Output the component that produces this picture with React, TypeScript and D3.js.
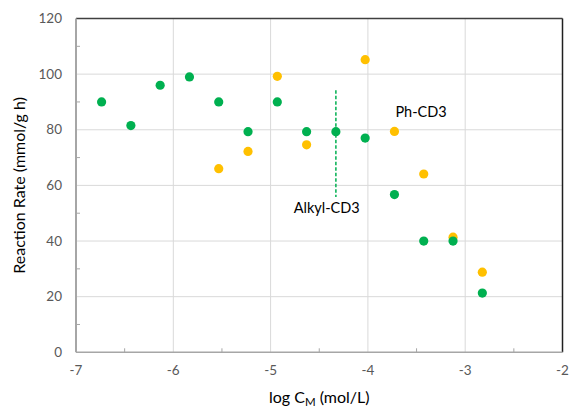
import React from "react";
import * as d3 from "d3";

// log of monomer concentration (mol/L) for each run
const logConc = [-6.737, -6.436, -6.135, -5.834, -5.533, -5.232, -4.931, -4.63, -4.329, -4.028, -3.727, -3.426, -3.125, -2.824];
// reaction rate (mmol/g h), alkyl-CD3 series
const alkylRate: (number | null)[] = [90, 81.5, 96, 99, 90, 79.3, 90, 79.3, 79.3, 77, 56.7, 40, 40, 21.3];
// reaction rate (mmol/g h), Ph-CD3 series
const phRate: (number | null)[] = [null, null, null, null, 66, 72.2, 99.2, 74.6, null, 105.2, 79.4, 64.1, 41.4, 28.8];

const xTicks = [-7, -6, -5, -4, -3, -2];
const yTicks = [0, 20, 40, 60, 80, 100, 120];

// marker for the alkyl-CD3 series: vertical dashed guide
const guideX = -4.329;
const guideY = [55.8, 94.2];

const W = 569;
const H = 409;
const M = { left: 76, right: 6.5, top: 18.5, bottom: 56.7 };

const GREEN = "#00B050";
const YELLOW = "#FFC000";
const FONT = "Lato, 'Open Sans', sans-serif";

export default function App() {
  const x = d3.scaleLinear().domain([-7, -2]).range([M.left, W - M.right]);
  const y = d3.scaleLinear().domain([0, 120]).range([H - M.bottom, M.top]);
  const x0 = x(-7), x1 = x(-2), y0 = y(0), y1 = y(120);

  const minorX = d3.range(-6.5, -2, 1);
  const minorY = d3.range(10, 120, 20);

  const pts = (vals: (number | null)[]) =>
    logConc
      .map((c, i) => ({ c, v: vals[i] }))
      .filter((d) => d.v !== null) as { c: number; v: number }[];

  return (
    <div style={{ position: "fixed", left: 0, top: 0 }}>
      <svg width={W} height={H} style={{ display: "block", background: "#fff" }}>
        {/* grid */}
        {xTicks.slice(1, -1).map((t) => (
          <line key={"gx" + t} x1={x(t)} x2={x(t)} y1={y1} y2={y0} stroke="#d9d9d9" strokeWidth={1} />
        ))}
        {yTicks.slice(1, -1).map((t) => (
          <line key={"gy" + t} x1={x0} x2={x1} y1={y(t)} y2={y(t)} stroke="#d9d9d9" strokeWidth={1} />
        ))}
        {/* frame */}
        <line x1={x0} x2={x1} y1={y1} y2={y1} stroke="#404040" strokeWidth={1.5} />
        <line x1={x1} x2={x1} y1={y1} y2={y0} stroke="#202020" strokeWidth={1.5} />
        <line x1={x0} x2={x1} y1={y0} y2={y0} stroke="#a6a6a6" strokeWidth={1.5} />
        <line x1={x0} x2={x0} y1={y1} y2={y0} stroke="#a6a6a6" strokeWidth={2} />
        {/* minor ticks */}
        {minorX.map((t) => (
          <line key={"mx" + t} x1={x(t)} x2={x(t)} y1={y0} y2={y0 - 4} stroke="#a6a6a6" strokeWidth={1} />
        ))}
        {minorY.map((t) => (
          <line key={"my" + t} x1={x0} x2={x0 + 4} y1={y(t)} y2={y(t)} stroke="#a6a6a6" strokeWidth={1} />
        ))}
        {/* tick labels */}
        {xTicks.map((t) => (
          <text key={"tx" + t} x={x(t)} y={y0 + 23} textAnchor="middle" fontFamily={FONT} fontSize={13.5} fill="#595959">
            {t}
          </text>
        ))}
        {yTicks.map((t) => (
          <text key={"ty" + t} x={x0 - 14} y={y(t) + 4.5} textAnchor="end" fontFamily={FONT} fontSize={13.5} fill="#595959">
            {t}
          </text>
        ))}
        {/* axis titles */}
        <text x={(x0 + x1) / 2} y={403} textAnchor="middle" fontFamily={FONT} fontSize={16} fill="#000">
          log C
          <tspan dy={3} fontSize={11.5}>M</tspan>
          <tspan dy={-3}> (mol/L)</tspan>
        </text>
        <text
          transform={`translate(24.5,${(y0 + y1) / 2}) rotate(-90)`}
          textAnchor="middle"
          fontFamily={FONT}
          fontSize={16}
          fill="#000"
        >
          Reaction Rate (mmol/g h)
        </text>
        {/* guide */}
        <line x1={x(guideX)} x2={x(guideX)} y1={y(guideY[1])} y2={y(guideY[0])} stroke={GREEN} strokeWidth={1.5} strokeDasharray="3.5,2" />
        {/* series */}
        {pts(phRate).map((d, i) => (
          <circle key={"p" + i} cx={x(d.c)} cy={y(d.v)} r={4.6} fill={YELLOW} />
        ))}
        {pts(alkylRate).map((d, i) => (
          <circle key={"a" + i} cx={x(d.c)} cy={y(d.v)} r={4.6} fill={GREEN} />
        ))}
        {/* labels */}
        <text x={x(-3.454)} y={y(84.5)} textAnchor="middle" fontFamily={FONT} fontSize={14.5} fill="#000">
          Ph-CD3
        </text>
        <text x={x(-4.423)} y={y(50.2)} textAnchor="middle" fontFamily={FONT} fontSize={14.5} fill="#000">
          Alkyl-CD3
        </text>
      </svg>
    </div>
  );
}
